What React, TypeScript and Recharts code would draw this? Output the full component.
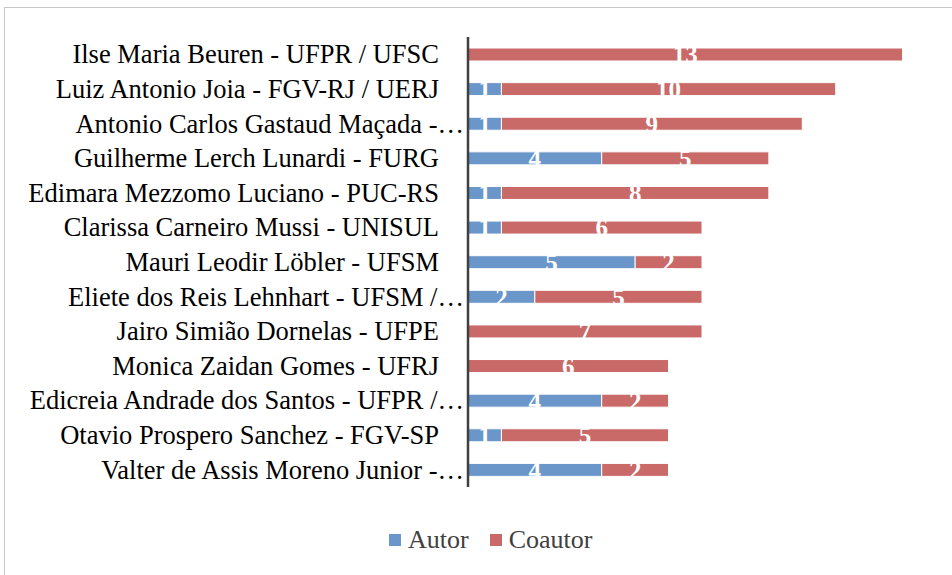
import React from 'react';
import { BarChart, Bar, XAxis, YAxis, LabelList, Legend } from 'recharts';

const categories = [
  'Ilse Maria Beuren - UFPR / UFSC',
  'Luiz Antonio Joia - FGV-RJ / UERJ',
  'Antonio Carlos Gastaud Maçada -…',
  'Guilherme Lerch Lunardi - FURG',
  'Edimara Mezzomo Luciano - PUC-RS',
  'Clarissa Carneiro Mussi - UNISUL',
  'Mauri Leodir Löbler - UFSM',
  'Eliete dos Reis Lehnhart - UFSM /…',
  'Jairo Simião Dornelas - UFPE',
  'Monica Zaidan Gomes - UFRJ',
  'Edicreia Andrade dos Santos - UFPR /…',
  'Otavio Prospero Sanchez - FGV-SP',
  'Valter de Assis Moreno Junior -…',
];
const autor = [0, 1, 1, 4, 1, 1, 5, 2, 0, 0, 4, 1, 4];
const coautor = [13, 10, 9, 5, 8, 6, 2, 5, 7, 6, 2, 5, 2];
const seriesNames = ['Autor', 'Coautor'];
const seriesColors = ['#6a96c9', '#c96a68'];

const data = categories.map((name, i) => ({ name, autor: autor[i], coautor: coautor[i] }));

const FONT = "'Liberation Serif', 'Times New Roman', serif";

const CategoryTick = (props: any) => {
  const { x, y, payload } = props;
  const v: string = payload.value;
  const truncated = v.endsWith('…');
  return (
    <text x={truncated ? x + 4 : x - 21} y={y} dy={9} textAnchor="end" fill="#000" fontFamily={FONT} fontSize={26.5}>
      {v}
    </text>
  );
};

const renderLegend = (props: any) => {
  const payload = props.payload || [];
  return (
    <div style={{ display: 'flex', alignItems: 'center', marginLeft: 389, fontFamily: FONT, fontSize: 26, lineHeight: '30px', color: '#404040' }}>
      {payload.map((p: any, i: number) => (
        <div key={i} style={{ display: 'flex', alignItems: 'center', marginRight: 21 }}>
          <div style={{ width: 12, height: 12, background: p.color, marginRight: 7 }} />
          <span>{p.value}</span>
        </div>
      ))}
    </div>
  );
};

export default function App() {
  return (
    <div style={{ position: 'absolute', left: 0, top: 0, width: 952, height: 575, overflow: 'hidden', background: '#fff' }}>
      <div style={{ position: 'absolute', left: 4, top: 7, width: 980, height: 620, border: '1px solid #c8c8c8' }} />
      <div style={{ position: 'absolute', left: 0, top: 0 }}>
        <BarChart
          width={952}
          height={575}
          layout="vertical"
          data={data}
          margin={{ top: 37, right: 16, bottom: 88, left: 0 }}
          barSize={13}
        >
          <XAxis type="number" domain={[0, 14]} hide />
          <YAxis
            type="category"
            dataKey="name"
            width={468}
            tickLine={false}
            axisLine={{ stroke: '#404040', strokeWidth: 2.5 }}
            tick={<CategoryTick />}
            interval={0}
          />
          <Legend
            layout="horizontal"
            verticalAlign="middle"
            align="center"
            content={renderLegend}
            wrapperStyle={{ left: 0, top: 525, width: 952 }}
          />
          <Bar dataKey="autor" name={seriesNames[0]} stackId="a" fill={seriesColors[0]} stroke="#ffffff" strokeWidth={1} isAnimationActive={false}>
            <LabelList dataKey="autor" position="center" fill="#ffffff" fontFamily={FONT} fontSize={25} fontWeight="bold" />
          </Bar>
          <Bar dataKey="coautor" name={seriesNames[1]} stackId="a" fill={seriesColors[1]} stroke="#ffffff" strokeWidth={1} isAnimationActive={false}>
            <LabelList dataKey="coautor" position="center" fill="#ffffff" fontFamily={FONT} fontSize={25} fontWeight="bold" />
          </Bar>
        </BarChart>
      </div>
    </div>
  );
}
